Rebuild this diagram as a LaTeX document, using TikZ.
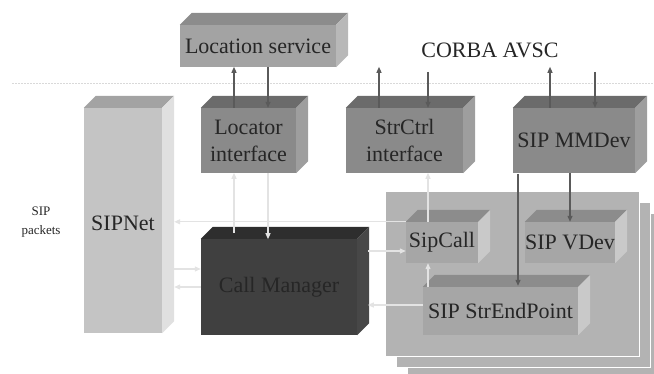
\documentclass[tikz,border=0pt]{standalone}
\usepackage{fontspec}
\setmainfont{Liberation Serif}
\usetikzlibrary{arrows.meta}
\definecolor{txt}{HTML}{262626}
\definecolor{locF}{HTML}{A3A3A3}
\definecolor{locT}{HTML}{8C8C8C}
\definecolor{locS}{HTML}{B8B8B8}
\definecolor{ifF}{HTML}{8A8A8A}
\definecolor{ifT}{HTML}{6B6B6B}
\definecolor{ifS}{HTML}{9E9E9E}
\definecolor{netF}{HTML}{C4C4C4}
\definecolor{netT}{HTML}{A3A3A3}
\definecolor{netS}{HTML}{E0E0E0}
\definecolor{cmF}{HTML}{404040}
\definecolor{cmT}{HTML}{2E2E2E}
\definecolor{cmS}{HTML}{474747}
\definecolor{inF}{HTML}{A6A6A6}
\definecolor{inT}{HTML}{8C8C8C}
\definecolor{inS}{HTML}{C9C9C9}
\definecolor{panelc}{HTML}{B3B3B3}
\definecolor{darkarr}{HTML}{5A5A5A}
\definecolor{lightarr}{HTML}{E3E3E3}
\newcommand\boxfaces[3]{%
  \fill[#2] (#1.north west) -- ++(12,-12) -- ([shift={(12,-12)}]#1.north east) -- (#1.north east) -- cycle;
  \fill[#3] (#1.north east) -- ++(12,-12) -- ([shift={(12,-12)}]#1.south east) -- (#1.south east) -- cycle;
}
\tikzset{
  box/.style={rectangle, inner sep=0pt, align=center, text=txt,
    font=\fontsize{22}{27}\selectfont},
  darr/.style={draw=darkarr, line width=1.2pt, -{Triangle[length=6pt,width=5pt]}},
  larr/.style={draw=lightarr, line width=1.2pt, -{Triangle[length=6pt,width=5pt]}},
  panel/.style={fill=panelc, draw=white, line width=1pt},
  dashline/.style={draw=black!15, line width=0.6pt, dash pattern=on 2pt off 1pt},
  plain/.style={text=txt, align=center}
}
\begin{document}
\begin{tikzpicture}[x=1pt,y=-1pt]
\useasboundingbox (0,0) rectangle (654,374);
\begin{scope}
\clip (0,0) rectangle (654,374);
\draw[panel] (407,214) rectangle (661,379);
\draw[panel] (396,203) rectangle (650,368);
\draw[panel] (385,192) rectangle (639,357);
\end{scope}
\draw[dashline] (12,83) -- (654,83);

\node[plain, font=\fontsize{22}{26}\selectfont] (corba) at (490,50) {CORBA AVSC};
\node[plain, font=\fontsize{13}{19}\selectfont] (packets) at (41,222) {SIP\\packets};

\node[box, fill=locF, minimum width=156pt, minimum height=42pt] (loc) at (258,46) {Location service};
\boxfaces{loc}{locT}{locS}
\node[box, fill=ifF, minimum width=95pt, minimum height=65pt] (locif) at (248.5,140.5) {Locator\\interface};
\boxfaces{locif}{ifT}{ifS}
\node[box, fill=ifF, minimum width=117pt, minimum height=65pt] (strctrl) at (404.5,140.5) {StrCtrl\\interface};
\boxfaces{strctrl}{ifT}{ifS}
\node[box, fill=ifF, minimum width=122pt, minimum height=65pt] (mmdev) at (574,140.5) {SIP MMDev};
\boxfaces{mmdev}{ifT}{ifS}
\node[box, fill=netF, minimum width=78pt, minimum height=225pt] (sipnet) at (123,220.5) {};
\boxfaces{sipnet}{netT}{netS}
\coordinate (sipnetR) at ([xshift=12pt]sipnet.east);
\node[box] (sipnetlabel) at (123,223) {SIPNet};
\node[box, fill=cmF, minimum width=156pt, minimum height=96pt] (callmgr) at (279,287) {Call Manager};
\boxfaces{callmgr}{cmT}{cmS}
\node[box, fill=inF, minimum width=72pt, minimum height=41pt] (sipcall) at (442,242.5) {SipCall};
\boxfaces{sipcall}{inT}{inS}
\node[box, fill=inF, minimum width=84pt, minimum height=41pt] (vdev) at (570,242.5) {SIP VDev};
\boxfaces{vdev}{inT}{inS}
\node[box, fill=inF, minimum width=155pt, minimum height=48pt] (strend) at (500.5,311) {SIP StrEndPoint};
\boxfaces{strend}{inT}{inS}

% dark connectors
\draw[darr] ([xshift=-14.5pt]locif.north) -- ++(0,-41);
\draw[darr] ([xshift=19.5pt]locif.north) ++(0,-41) -- ++(0,41);
\draw[darr] ([xshift=-25.5pt]strctrl.north) -- ++(0,-41);
\draw[darr] ([xshift=23.5pt]strctrl.north) ++(0,-36) -- ++(0,36);
\draw[darr] ([xshift=-24pt]mmdev.north) -- ++(0,-41);
\draw[darr] ([xshift=21pt]mmdev.north) ++(0,-36) -- ++(0,36);
\draw[darr] ([xshift=17.5pt]strend.north) ++(0,-113) -- ++(0,112);
\draw[darr] (vdev.north |- mmdev.south) -- (vdev.north);

% light connectors
\draw[larr] ([xshift=-45pt,yshift=6pt]callmgr.north) -- ++(0,-60);
\draw[larr] ([xshift=19.5pt]locif.south) -- ++(0,66);
\draw[larr] (sipcall.north west) -- (sipcall.north west -| sipnetR);
\draw[larr] ([yshift=18pt]callmgr.west) ++(-27,0) -- ++(27,0);
\draw[larr] (callmgr.west) -- (callmgr.west -| sipnetR);
\draw[larr] ([yshift=-8.5pt]sipcall.west) ++(-38,0) -- ++(38,0);
\draw[larr] ([yshift=6pt]strend.west) -- ++(-55,0);
\draw[larr] ([xshift=-14pt]sipcall.south) ++(0,24) -- ++(0,-24);
\draw[larr] ([xshift=-14pt]sipcall.north) -- ++(0,-49);
\end{tikzpicture}
\end{document}
